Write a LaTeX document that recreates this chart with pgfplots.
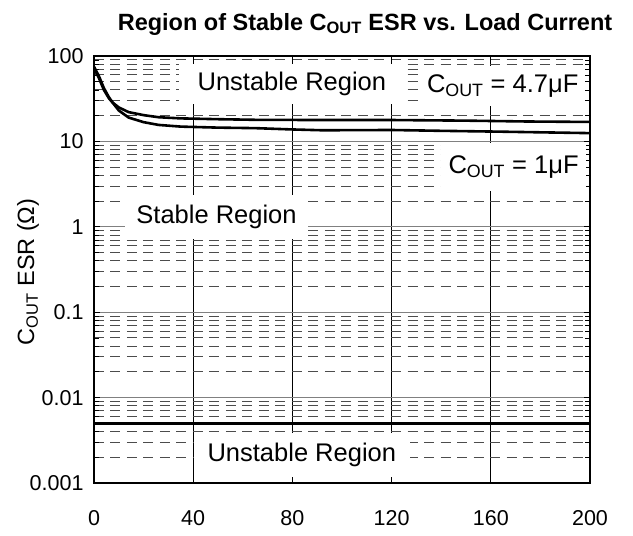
\documentclass[border=0pt]{standalone}
\usepackage{fontspec}
\setmainfont{Liberation Sans}
\usepackage{pgfplots}
\pgfplotsset{compat=1.18}
\newcommand{\sub}[1]{\textsubscript{#1}}
\begin{document}
\begin{tikzpicture}
\begin{axis}[
  at={(0,0)}, anchor=south west,
  scale only axis, width=496pt, height=427pt,
  xmin=0, xmax=200, ymin=0.001, ymax=100,
  ymode=log,
  xtick={0,40,80,120,160,200},
  ytick={0.001,0.01,0.1,1,10,100},
  yticklabels={0.001,0.01,0.1,1,10,100},
  tick label style={font=\fontsize{21.5}{25}\selectfont},
  /pgf/number format/assume math mode=true,
  xticklabel style={yshift=-24pt},
  yticklabel style={xshift=-7pt},
  xmajorgrids, ymajorgrids, yminorgrids,
  major x grid style={black, line width=0.8pt},
  major y grid style={gray, line width=1.3pt},
  minor y grid style={black!70, dash pattern=on 10pt off 6.5pt, line width=1pt},
  major tick length=6pt, minor tick length=5pt,
  tick style={black, line width=0.8pt},
  axis line style={line width=1.1pt},
  every axis plot/.append style={line width=2.6pt, black},
]
% C_OUT = 4.7uF
\addplot[no marks] coordinates {
(0,75) (2,58) (4,42) (6,33) (7.5,28.5) (10,25) (14,22) (20,20.3) (26,19.2)
(35,18.6) (50,18.2) (65,17.9) (90,17.8) (120,17.8) (150,17.5) (175,17.1) (200,16.9)};
% C_OUT = 1uF
\addplot[no marks] coordinates {
(0,72) (2,55) (4,40) (6,32) (7.5,28.5) (10,23) (14,19) (20,16.8) (26,15.6)
(35,14.9) (50,14.5) (65,14.3) (80,13.8) (92,13.5) (120,13.6) (140,13.3) (164,13.0) (200,12.5)};
% lower stability limit
\addplot[no marks] coordinates {(0,0.005) (200,0.005)};

\node[fill=white, inner sep=0pt, minimum width=225pt, minimum height=40pt,
  font=\fontsize{25.5}{30}\selectfont] at (rel axis cs:0.399,0.934) {Unstable Region};
\node[fill=white, inner sep=0pt, minimum width=165pt, minimum height=40pt,
  font=\fontsize{25.5}{30}\selectfont] at (rel axis cs:0.824,0.930) {C\sub{OUT} = 4.7μF};
\node[fill=white, inner sep=0pt, minimum width=145pt, minimum height=48pt,
  font=\fontsize{25.5}{30}\selectfont] at (rel axis cs:0.846,0.740) {C\sub{OUT} = 1μF};
\node[fill=white, inner sep=0pt, minimum width=183pt, minimum height=44pt,
  font=\fontsize{25.5}{30}\selectfont] at (rel axis cs:0.247,0.624) {Stable Region};
\node[fill=white, inner sep=0pt, minimum width=216pt, minimum height=44pt,
  font=\fontsize{25.5}{30}\selectfont] at (rel axis cs:0.419,0.066) {Unstable Region};
\end{axis}
\node[font=\bfseries\fontsize{23.5}{28}\selectfont] at (271pt,459pt)
  {Region of Stable C\sub{OUT} ESR vs. Load Current};
\node[rotate=90, font=\fontsize{23.5}{28}\selectfont] at (-66pt,211pt) {C\sub{OUT} ESR (Ω)};
\path (-94pt,-53pt) rectangle (539pt,483pt);
\end{tikzpicture}
\end{document}
